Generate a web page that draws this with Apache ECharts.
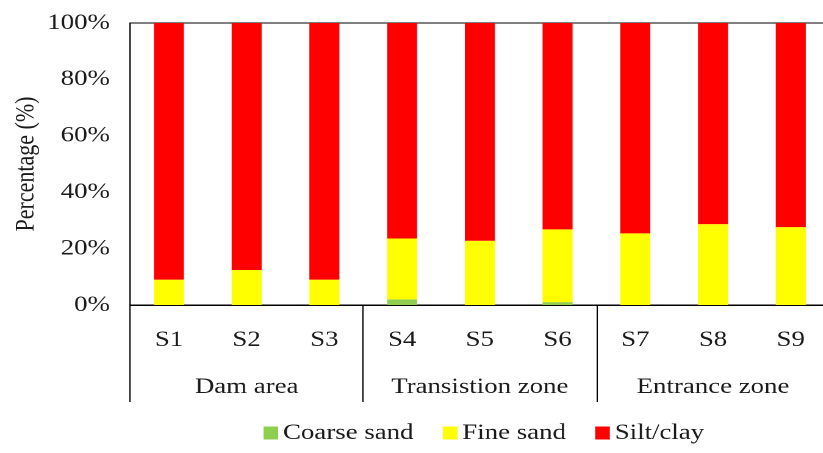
<!DOCTYPE html>
<html>
<head>
<meta charset="utf-8">
<script src="https://cdn.jsdelivr.net/npm/echarts@6/dist/echarts.min.js"></script>
<style>
  html, body { margin: 0; padding: 0; background: #fff; overflow: hidden; }
  /* the source figure is stretched sideways, so draw narrow and widen it */
  #chart { width: 689px; height: 453px; transform: scaleX(1.22); transform-origin: 0 0; }
</style>
</head>
<body>
<div id="chart"></div>
<script>
// sampling sites and zones
var sites = ['S1', 'S2', 'S3', 'S4', 'S5', 'S6', 'S7', 'S8', 'S9'];
var zones = ['Dam area', 'Transistion zone', 'Entrance zone'];
var yTicks = [0, 20, 40, 60, 80, 100];

// grain size fractions (%)
var coarseSand = [0, 0, 0, 2, 0, 1, 0, 0, 0];
var fineSand = [9, 12.4, 9, 21.6, 22.8, 25.8, 25.4, 28.7, 27.6];
var siltClay = sites.map(function (s, i) {
  return +(100 - coarseSand[i] - fineSand[i]).toFixed(1);
});

var font = 'Liberation Serif';
var txt = '#1a1a1a';

var chart = echarts.init(document.getElementById('chart'), null, { devicePixelRatio: 2 });

chart.setOption({
  animation: false,
  grid: {
    left: 106.6, right: 9, top: 23, bottom: 148,
    outerBoundsMode: 'none',
    show: true, borderColor: '#000', borderWidth: 1
  },
  legend: {
    bottom: 4, left: 211,
    itemWidth: 12, itemHeight: 13, itemGap: 24,
    icon: 'rect',
    textStyle: { fontFamily: font, fontSize: 22, color: txt, padding: [0, 0, 0, -1] },
    data: ['Coarse sand', 'Fine sand', 'Silt/clay']
  },
  xAxis: [{
    type: 'category',
    data: sites,
    position: 'bottom',
    axisLine: { lineStyle: { color: '#000', width: 1 } },
    axisTick: { show: false },
    axisLabel: { margin: 24, fontFamily: font, fontSize: 22, color: txt }
  }, {
    type: 'category',
    data: zones,
    position: 'bottom',
    axisLine: { show: false },
    axisTick: { show: true, length: 97, lineStyle: { color: '#000', width: 1 } },
    axisLabel: { margin: 71, fontFamily: font, fontSize: 22, color: txt }
  }],
  yAxis: {
    type: 'value',
    min: yTicks[0], max: yTicks[yTicks.length - 1], interval: 20,
    name: 'Percentage (%)',
    nameLocation: 'middle',
    nameGap: 74,
    nameMoveOverlap: false,
    nameTextStyle: { fontFamily: font, fontSize: 22, color: txt },
    axisLine: { show: true, lineStyle: { color: '#000' } },
    axisTick: { show: false },
    splitLine: { show: false },
    axisLabel: {
      margin: 16.5, fontFamily: font, fontSize: 22, color: txt,
      formatter: '{value}%'
    }
  },
  series: [{
    name: 'Coarse sand', type: 'bar', stack: 'all', barWidth: 24.6,
    itemStyle: { color: '#8fcf4f' }, data: coarseSand
  }, {
    name: 'Fine sand', type: 'bar', stack: 'all', barWidth: 24.6,
    itemStyle: { color: '#ffff00' }, data: fineSand
  }, {
    name: 'Silt/clay', type: 'bar', stack: 'all', barWidth: 24.6,
    itemStyle: { color: '#ff0000' }, data: siltClay
  }]
});
</script>
</body>
</html>
